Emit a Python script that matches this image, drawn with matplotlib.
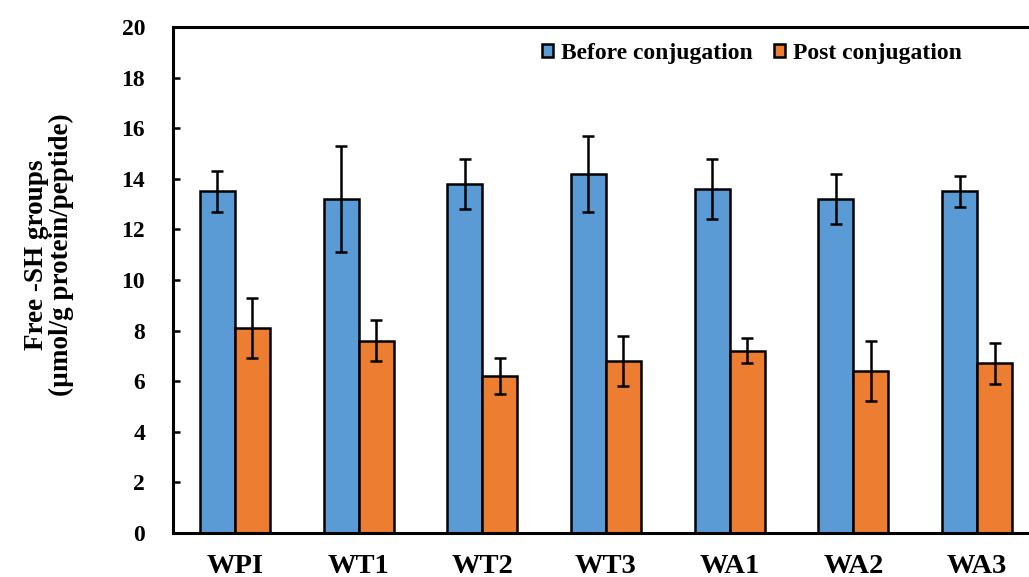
import numpy as np
import matplotlib.pyplot as plt

samples = ['WPI', 'WT1', 'WT2', 'WT3', 'WA1', 'WA2', 'WA3']
before = [13.5, 13.2, 13.8, 14.2, 13.6, 13.2, 13.5]
before_err = [0.8, 2.1, 1.0, 1.5, 1.2, 1.0, 0.6]
post = [8.1, 7.6, 6.2, 6.8, 7.2, 6.4, 6.7]
post_err = [1.2, 0.8, 0.7, 1.0, 0.5, 1.2, 0.8]
y_ticks = [0, 2, 4, 6, 8, 10, 12, 14, 16, 18, 20]

plt.rcParams['font.family'] = 'Liberation Serif'
plt.rcParams['font.weight'] = 'bold'

fig = plt.figure(figsize=(10.29, 5.77), dpi=100)
ax = fig.add_axes([0.1681, 0.0763, 0.8416, 0.877])

x = np.arange(len(samples))
w = 0.283
err_kw = dict(ecolor='black', elinewidth=1.8, capsize=4, capthick=1.8)

ax.bar(x - w / 2, before, w, yerr=before_err, color='#5B9BD5',
       edgecolor='black', linewidth=1.8, error_kw=err_kw, label='Before conjugation')
ax.bar(x + w / 2, post, w, yerr=post_err, color='#ED7D31',
       edgecolor='black', linewidth=1.8, error_kw=err_kw, label='Post conjugation')

ax.set_xlim(-0.5, 6.5)
ax.set_ylim(0, 20)
ax.set_yticks(y_ticks)
ax.set_xticks(x)
ax.set_xticklabels(samples, fontsize=20.5, fontweight='bold')
ax.tick_params(axis='y', direction='in', length=5, width=1.8, pad=20, labelsize=17)
ax.tick_params(axis='x', length=0, pad=15)
for lab in ax.get_yticklabels():
    lab.set_fontweight('bold')

for side in ['left', 'bottom', 'top', 'right']:
    ax.spines[side].set_linewidth(2.2)

fig.text(0.048, 0.558, 'Free -SH groups\n(\u00b5mol/g protein/peptide)',
         rotation=90, ha='center', va='center', fontsize=19.5,
         fontweight='bold', multialignment='center', linespacing=1.0)

ax.legend(loc='center left', bbox_to_anchor=(0.527, 0.907), bbox_transform=fig.transFigure,
          ncol=2, frameon=False, fontsize=17, handlelength=0.45, handleheight=0.45,
          handletextpad=0.35, columnspacing=0.9, borderaxespad=0, borderpad=0)

fig.savefig('out.png', dpi=100)
